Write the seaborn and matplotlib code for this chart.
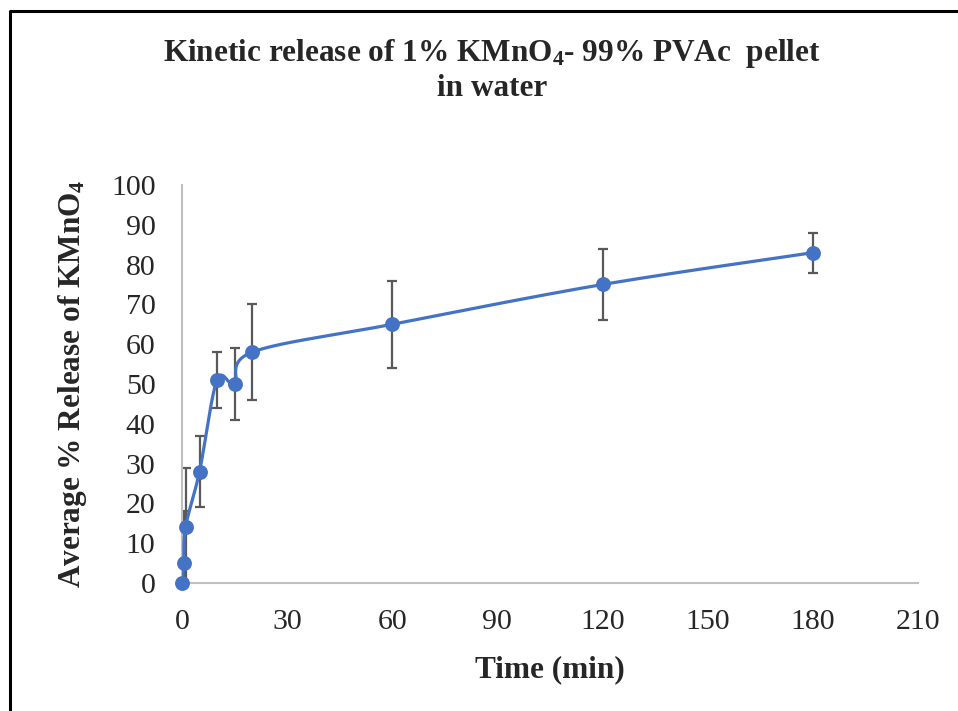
import numpy as np
import pandas as pd
import matplotlib
matplotlib.use("Agg")
import matplotlib.pyplot as plt
from matplotlib.lines import Line2D
import seaborn as sns

# ---- data ----
time_min = [0, 0.5, 1, 5, 10, 15, 20, 60, 120, 180]
release = [0, 5, 14, 28, 51, 50, 58, 65, 75, 83]
release_err = [0, 13, 15, 9, 7, 9, 12, 11, 9, 5]
x_ticks = [0, 30, 60, 90, 120, 150, 180, 210]
y_ticks = [0, 10, 20, 30, 40, 50, 60, 70, 80, 90, 100]

title_text = "Kinetic release of 1% KMnO$_\\mathbf{4}$- 99% PVAc  pellet\nin water"
xlabel_text = "Time (min)"
ylabel_text = "Average % Release of KMnO$_\\mathbf{4}$"

sns.set_theme(style="white")
plt.rcParams["font.family"] = ["Liberation Serif", "DejaVu Serif"]
plt.rcParams["mathtext.fontset"] = "custom"
plt.rcParams["mathtext.rm"] = "Liberation Serif"
plt.rcParams["mathtext.bf"] = "Liberation Serif:bold"
plt.rcParams["mathtext.it"] = "Liberation Serif:italic"


def catmull_rom(xs, ys, n=40):
    """Excel-like smoothed line through the data points."""
    P = np.column_stack([xs, ys]).astype(float)
    P = np.vstack([P[0], P, P[-1]])
    out = []
    t = np.linspace(0, 1, n)
    for i in range(1, len(P) - 2):
        p0, p1, p2, p3 = P[i - 1], P[i], P[i + 1], P[i + 2]
        c1 = p1 + (p2 - p0) / 6.0
        c2 = p2 - (p3 - p1) / 6.0
        seg = ((1 - t) ** 3)[:, None] * p1 + (3 * (1 - t) ** 2 * t)[:, None] * c1 \
            + (3 * (1 - t) * t ** 2)[:, None] * c2 + (t ** 3)[:, None] * p2
        out.append(seg if i == 1 else seg[1:])
    S = np.vstack(out)
    return S[:, 0], S[:, 1]


df = pd.DataFrame({"time": time_min, "release": release, "err": release_err})
sx, sy = catmull_rom(df["time"].values, df["release"].values)
smooth = pd.DataFrame({"time": sx, "release": sy, "order": np.arange(len(sx))})

fig = plt.figure(figsize=(9.58, 7.11), dpi=100)
ax = fig.add_axes([182 / 958, 1 - 583 / 711, (918 - 182) / 958, (583 - 185) / 711])

blue = "#4472C4"
ax.errorbar(df["time"], df["release"], yerr=df["err"], fmt="none",
            ecolor="#595959", elinewidth=1.6, capsize=3.8, capthick=1.6, zorder=2)
sns.lineplot(data=smooth, x="time", y="release", sort=False, estimator=None,
             color=blue, linewidth=2.3, ax=ax, zorder=3)
sns.scatterplot(data=df, x="time", y="release", color=blue, s=115,
                edgecolor=blue, linewidth=0, ax=ax, zorder=4, clip_on=False)

ax.set_xlim(0, 210)
ax.set_ylim(0, 100)
ax.set_xticks(x_ticks)
ax.set_yticks(y_ticks)
ax.tick_params(axis="x", labelsize=21.5, pad=19, length=0)
ax.tick_params(axis="y", labelsize=21.5, pad=19, length=0)
for lab in ax.get_xticklabels() + ax.get_yticklabels():
    lab.set_color("#262626")
for s in ["top", "right"]:
    ax.spines[s].set_visible(False)
for s in ["left", "bottom"]:
    ax.spines[s].set_color("#BFBFBF")
    ax.spines[s].set_linewidth(1.5)
ax.grid(False)

ax.set_xlabel(xlabel_text, fontsize=22.5, fontweight="bold", labelpad=14)
ax.set_ylabel(ylabel_text, fontsize=22.5, fontweight="bold", labelpad=16)

fig.text(492 / 958, 1 - 70 / 711, title_text, ha="center", va="center",
         fontsize=22.5, fontweight="bold", linespacing=1.2)

# chart-area border (left and top edges visible in the reference)
fig.add_artist(Line2D([10 / 958, 10 / 958, 1.0], [0.0, 1 - 11 / 711, 1 - 11 / 711],
                      transform=fig.transFigure, color="black", linewidth=2.2))

fig.savefig("out.png", dpi=100)
